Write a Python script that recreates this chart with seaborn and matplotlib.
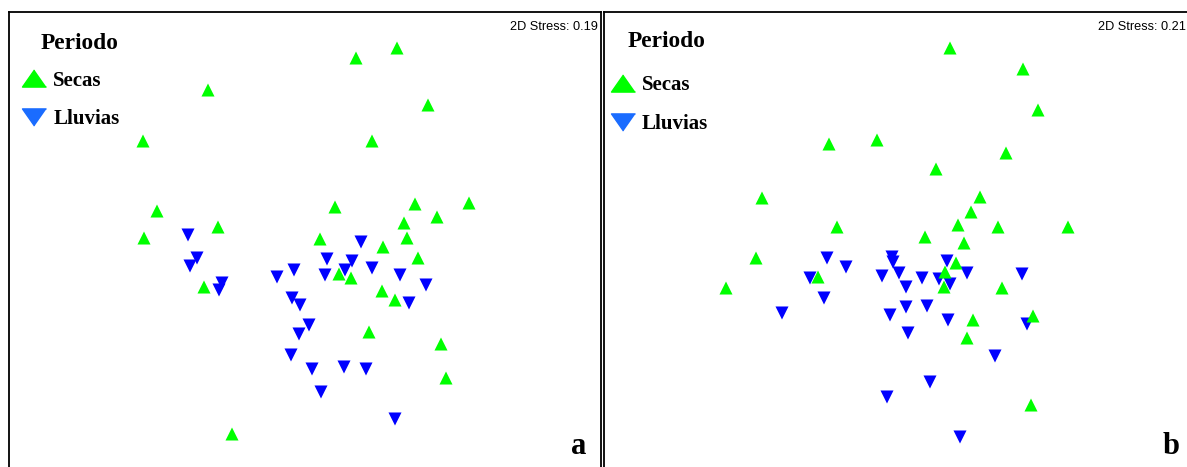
import pandas as pd
import matplotlib.pyplot as plt
import seaborn as sns
from matplotlib.lines import Line2D

# NMDS coordinates (panel a: 0.19 stress, panel b: 0.21 stress)
a_secas_x = [0.97, 0.56, -0.92, 1.28, -1.57, 0.72, -1.43, 0.35, 1.69, 1.15, 1.37, 1.04, -0.82, -1.56,
             0.20, 1.07, 0.83, 1.18, 0.39, 0.51, -0.96, 0.82, 0.95, 0.69, 1.41, 1.46, -0.68]
a_secas_y = [2.02, 1.92, 1.60, 1.45, 1.09, 1.09, 0.39, 0.43, 0.47, 0.46, 0.33, 0.27, 0.23, 0.12,
             0.11, 0.12, 0.03, -0.08, -0.24, -0.28, -0.37, -0.41, -0.50, -0.82, -0.94, -1.28, -1.84]
a_lluvias_x = [-1.12, -1.03, -1.10, -0.78, -0.81, -0.23, -0.06, -0.08, 0.00, 0.09, -0.01, -0.09, 0.12,
               0.44, 0.66, 0.21, 0.95, 0.27, 0.25, 0.52, 0.45, 0.61, 0.72, 1.00, 1.26, 1.09]
a_lluvias_y = [0.15, -0.08, -0.16, -0.33, -0.40, -0.27, -0.20, -0.48, -0.55, -0.75, -0.84, -1.05, -1.19,
               -1.17, -1.19, -1.42, -1.69, -0.09, -0.25, -0.11, -0.20, 0.08, -0.18, -0.25, -0.35, -0.53]

b_secas_x = [0.50, 1.23, 1.38, -0.71, -0.23, 1.06, 0.36, -1.38, 0.80, 0.71, -0.63, 0.58, 0.98, 1.68,
             0.25, 0.64, -1.44, -0.82, 0.56, 0.45, 0.44, -1.74, 1.02, 0.73, 1.33, 0.67, 1.31]
b_secas_y = [2.02, 1.81, 1.40, 1.06, 1.10, 0.97, 0.81, 0.52, 0.53, 0.38, 0.23, 0.25, 0.23, 0.23,
             0.13, 0.07, -0.08, -0.27, -0.13, -0.22, -0.37, -0.38, -0.38, -0.70, -0.66, -0.88, -1.55]
b_lluvias_x = [-0.73, -0.54, -0.90, -0.76, -1.18, -0.08, -0.07, -0.18, -0.01, 0.06, 0.22, 0.39, 0.47,
               0.50, 0.67, 1.22, 0.06, 0.27, -0.10, 0.48, 1.27, 0.08, 0.95, 0.30, -0.13, 0.60]
b_lluvias_y = [-0.08, -0.17, -0.28, -0.48, -0.63, -0.07, -0.12, -0.26, -0.23, -0.37, -0.28, -0.29, -0.11,
               -0.34, -0.23, -0.24, -0.57, -0.56, -0.65, -0.70, -0.74, -0.83, -1.06, -1.32, -1.47, -1.87]

stress = ["2D Stress: 0.19", "2D Stress: 0.21"]
letters = ["a", "b"]
periodos = ["Secas", "Lluvias"]
colores = {"Secas": "#00ff00", "Lluvias": "#0000ff"}
marcadores = {"Secas": "^", "Lluvias": "v"}


def make_df(sx, sy, lx, ly):
    df1 = pd.DataFrame({"MDS1": lx, "MDS2": ly, "Periodo": "Lluvias"})
    df2 = pd.DataFrame({"MDS1": sx, "MDS2": sy, "Periodo": "Secas"})
    return pd.concat([df1, df2], ignore_index=True)


data = [make_df(a_secas_x, a_secas_y, a_lluvias_x, a_lluvias_y),
        make_df(b_secas_x, b_secas_y, b_lluvias_x, b_lluvias_y)]

sns.set_style("white")
plt.rcParams["text.color"] = "black"
serif = ["Liberation Serif", "DejaVu Serif"]

fig = plt.figure(figsize=(11.87, 4.67), dpi=100)
W, H = 1187, 467
# panels are cropped at the bottom/right, like the original screenshot
boxes = [(9.5, 600.5), (603.5, 1190)]
xlims = [(-2.905, 3.005), (-2.965, 2.90)]
top, bottom = 12, 470
# small per-panel shifts of the legend block / labels (axes fraction)
periodo_pos = [(0.052, 0.932), (0.041, 0.936)]
leg_anchor = [(0.021, 0.872), (0.012, 0.862)]
stress_x = [0.995, 0.993]
letter_x = [0.976, 0.983]

for i, df in enumerate(data):
    x0, x1 = boxes[i]
    ax = fig.add_axes([x0 / W, (H - bottom) / H, (x1 - x0) / W, (bottom - top) / H])
    sns.scatterplot(data=df, x="MDS1", y="MDS2", hue="Periodo", style="Periodo",
                    palette=colores, markers=marcadores, s=88, linewidth=0,
                    legend=False, ax=ax)
    ax.set_xlim(*xlims[i])
    ax.set_ylim(-2.20, 2.38)
    ax.set_xticks([])
    ax.set_yticks([])
    ax.set_xlabel("")
    ax.set_ylabel("")
    for sp in ax.spines.values():
        sp.set_visible(True)
        sp.set_color("black")
        sp.set_linewidth(1.3)

    ax.text(stress_x[i], 0.967, stress[i], transform=ax.transAxes, ha="right", va="center",
            fontsize=9.2, family="Liberation Sans", color="black")
    ax.text(*periodo_pos[i], "Periodo", transform=ax.transAxes, ha="left", va="center",
            fontsize=16.8, fontweight="bold", family=serif, color="black")
    ax.text(letter_x[i], 0.035, letters[i], transform=ax.transAxes, ha="right", va="baseline",
            fontsize=22, fontweight="bold", family=serif, color="black")

    tri_up = [(0, 1), (-1.4, -1), (1.4, -1)]
    tri_dn = [(0, -1), (-1.4, 1), (1.4, 1)]
    handles = [Line2D([], [], ls="", marker=tri_up, color="#00ff00", markersize=17.3),
               Line2D([], [], ls="", marker=tri_dn, color="#1a6cff", markersize=17.3)]
    leg = ax.legend(handles, periodos, loc="upper left", bbox_to_anchor=leg_anchor[i],
                    frameon=False, borderaxespad=0, borderpad=0, handlelength=1.2,
                    handletextpad=0.3, labelspacing=0.9,
                    prop={"family": "Liberation Serif", "weight": "bold", "size": 15})
    for t in leg.get_texts():
        t.set_color("black")

fig.savefig("out.png", dpi=100)
